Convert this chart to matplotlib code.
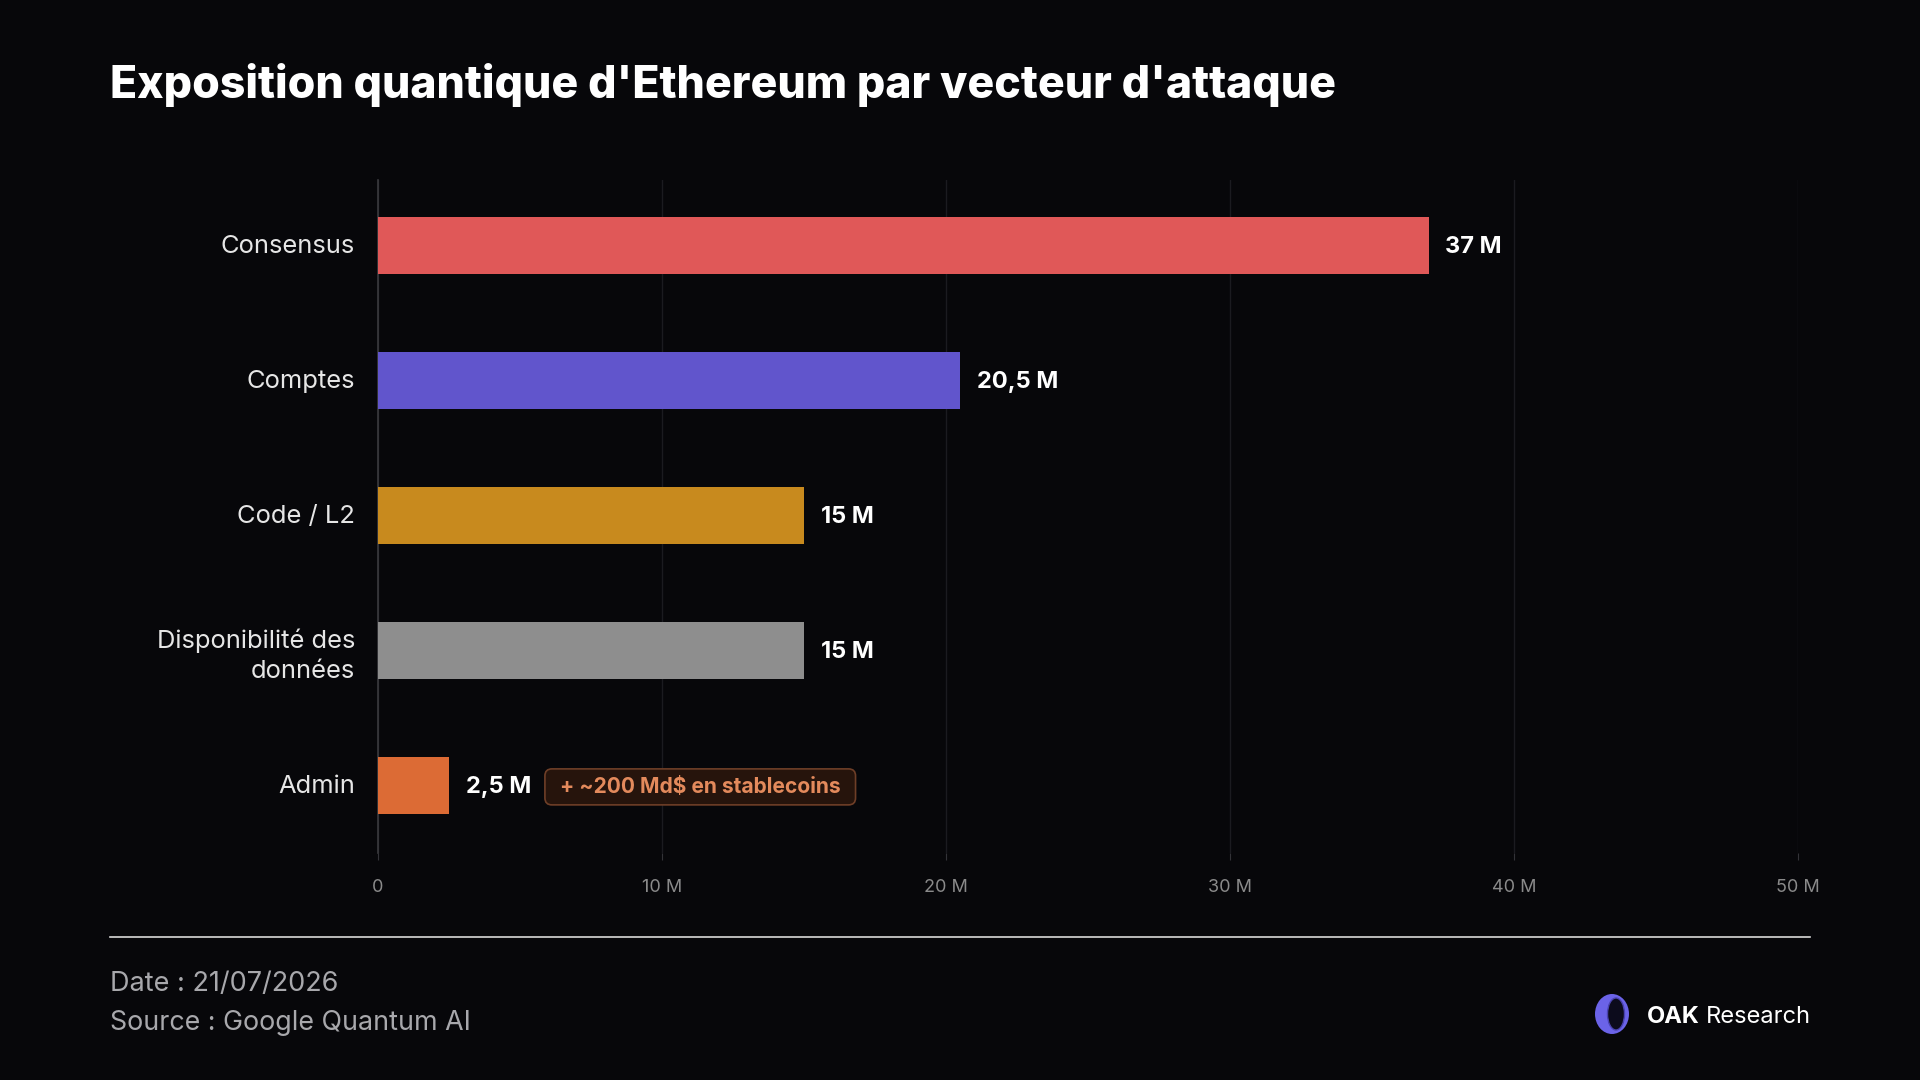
import matplotlib
matplotlib.use("Agg")
import matplotlib.pyplot as plt
from matplotlib.patches import FancyBboxPatch, Ellipse
from matplotlib.lines import Line2D
from matplotlib.transforms import IdentityTransform, ScaledTranslation

plt.rcParams['font.family'] = ['Inter', 'DejaVu Sans']

categories = ["Consensus", "Comptes", "Code / L2", "Disponibilité des\ndonnées", "Admin"]
values = [37, 20.5, 15, 15, 2.5]
colors = ["#e05858", "#6155cc", "#c88a1e", "#8e8e8e", "#dc6b35"]
xticks = [0, 10, 20, 30, 40, 50]
xtick_labels = ["0", "10 M", "20 M", "30 M", "40 M", "50 M"]
title = "Exposition quantique d'Ethereum par vecteur d'attaque"
note = "+ ~200 Md$ en stablecoins"
date_text = "Date : 21/07/2026"
source_text = "Source : Google Quantum AI"

BG = "#07070a"
W, H = 1920, 1080
fig = plt.figure(figsize=(19.2, 10.8), dpi=100, facecolor=BG)

ax = fig.add_axes([378 / W, 1 - 853 / H, 1420 / W, (853 - 180) / H], facecolor=BG)
ypos = list(range(len(categories)))
ax.barh(ypos, values, height=0.42, color=colors, zorder=3)
ax.set_ylim(len(categories) - 0.5, -0.485)
ax.set_xlim(0, 50)
ax.set_xticks(xticks)
ax.set_xticklabels(xtick_labels, color="#8a8a8a", fontsize=13)
ax.set_yticks(ypos)
ax.set_yticklabels(categories, color="#e6e6e6", fontsize=18.4, linespacing=1.4)
ax.tick_params(axis="y", length=0, pad=16.5)
ax.tick_params(axis="x", length=5, color="#333338", pad=14)
for lab in ax.get_yticklabels():
    lab.set_transform(lab.get_transform() + ScaledTranslation(0, 0.8 / 72, fig.dpi_scale_trans))
for s in ["top", "right", "bottom"]:
    ax.spines[s].set_visible(False)
ax.spines["left"].set_color("#3a3a3e")
ax.spines["left"].set_linewidth(1.2)
ax.grid(axis="x", color="#1b1b20", linewidth=1, zorder=0)
ax.set_axisbelow(True)

def fmt(v):
    s = f"{v:g}".replace(".", ",")
    return s + " M"

labels = []
for y, v in zip(ypos, values):
    t = ax.annotate(fmt(v), xy=(v, y), xytext=(12, -1), textcoords="offset points",
                    va="center", ha="left", color="white", fontsize=17, fontweight="bold")
    labels.append(t)

# note next to last label
last = labels[-1]
fig.canvas.draw()
r = fig.canvas.get_renderer()
bb = last.get_window_extent(r)
nt = ax.annotate(note, xy=(values[-1], ypos[-1]), xytext=(0, -1), textcoords="offset points",
                 va="center", ha="left", color="#e38a5c", fontsize=15.1, fontweight="bold", zorder=6)
x0_pix = bb.x1 + 29
fig.canvas.draw()
nb0 = nt.get_window_extent(r)
dx = x0_pix - nb0.x0
nt.set_position((dx * 72 / 100, -1))
fig.canvas.draw()
nb = nt.get_window_extent(r)
padx, pady = 15, 18
cy = (nb.y0 + nb.y1) / 2
box = FancyBboxPatch((nb.x0 - padx, cy - pady), nb.width + 2 * padx, 2 * pady,
                     boxstyle="round,pad=0,rounding_size=7", transform=IdentityTransform(),
                     facecolor="#26140c", edgecolor="#6e3e27", linewidth=1.2, zorder=5,
                     clip_on=False)
ax.add_patch(box)

# title
fig.text(110 / W, 1 - 98 / H, title, color="white", fontsize=32.1, fontweight=800,
         ha="left", va="baseline")

# footer line
fig.add_artist(Line2D([110 / W, 1810 / W], [1 - 937 / H, 1 - 937 / H], color="#d8d8d8", linewidth=1.2))
fig.text(110 / W, 1 - 991 / H, date_text, color="#a8a8ac", fontsize=19.5, ha="left", va="baseline")
fig.text(110 / W, 1 - 1030 / H, source_text, color="#a8a8ac", fontsize=19.3, ha="left", va="baseline")

# logo
lx, ly = 1612 / W, 1 - 1014 / H
outer = Ellipse((lx, ly), 34 / W, 40 / H, facecolor="#6b63e8", edgecolor="none")
inner = Ellipse((lx + 4 / W, ly), 17 / W, 32 / H, facecolor="#0c0b1c", edgecolor="#4a43b0", linewidth=1)
fig.add_artist(outer)
fig.add_artist(inner)
ot = fig.text(1647 / W, 1 - 1023 / H, "OAK", color="white", fontsize=17, fontweight="bold",
              ha="left", va="baseline")
fig.canvas.draw()
ob = ot.get_window_extent(r)
fig.text((ob.x1 + 6) / W, 1 - 1023 / H, "Research", color="white", fontsize=17,
         ha="left", va="baseline")

fig.savefig("out.png", dpi=100, facecolor=BG)
